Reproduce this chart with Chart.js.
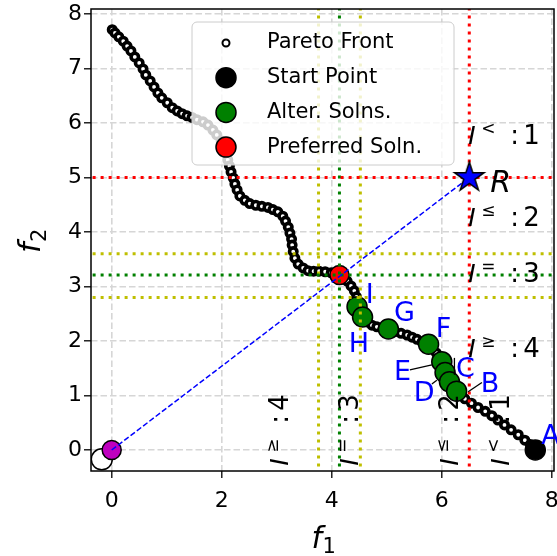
<!DOCTYPE html>
<html>
<head>
<meta charset="utf-8">
<script src="https://cdn.jsdelivr.net/npm/chart.js@4.4.6/dist/chart.umd.min.js"></script>
<style>
  html, body { margin: 0; padding: 0; background: #fff; }
  #chart { display: block; }
</style>
</head>
<body>
<canvas id="chart" width="557" height="556"></canvas>
<script>
// Pareto front samples
const paretoF1 = [0.01, 0.06, 0.13, 0.21, 0.28, 0.35, 0.42, 0.50, 0.57, 0.62, 0.70, 0.77, 0.84, 0.91, 1.01, 1.10, 1.19, 1.28, 1.37, 1.46,
  1.55, 1.66, 1.75, 1.84, 1.91, 1.99, 2.04, 2.09, 2.11, 2.14, 2.17, 2.21, 2.24, 2.28, 2.33, 2.42, 2.51, 2.62, 2.73,
  2.84, 2.93, 3.02, 3.11, 3.16, 3.21, 3.24, 3.27, 3.28, 3.30, 3.33, 3.39, 3.48, 3.57, 3.67, 3.77, 3.88, 3.99, 4.08,
  4.19, 4.28, 4.35, 4.41, 4.45, 4.48, 4.51, 4.57, 4.64, 4.73, 4.82, 4.93, 5.04, 5.15, 5.26, 5.37, 5.46, 5.55, 5.64, 5.73, 5.82, 5.90, 5.95, 6.00, 6.04, 6.08, 6.13, 6.20, 6.30,
  6.42, 6.54, 6.66, 6.79, 6.91, 7.02, 7.14, 7.26, 7.39, 7.51, 7.61, 7.70]
const paretoF2 = [7.71, 7.65, 7.58, 7.50, 7.41, 7.32, 7.21, 7.10, 6.99, 6.88, 6.77, 6.66, 6.55, 6.46, 6.37, 6.28, 6.22, 6.17, 6.13, 6.10,
  6.06, 6.02, 5.96, 5.87, 5.78, 5.67, 5.56, 5.43, 5.32, 5.21, 5.10, 4.99, 4.88, 4.77, 4.66, 4.58, 4.52, 4.49, 4.47,
  4.45, 4.41, 4.37, 4.29, 4.20, 4.09, 3.98, 3.87, 3.76, 3.64, 3.52, 3.41, 3.34, 3.29, 3.28, 3.28, 3.27, 3.25, 3.23,
  3.17, 3.10, 3.01, 2.92, 2.81, 2.70, 2.57, 2.44, 2.35, 2.29, 2.26, 2.22, 2.19, 2.17, 2.14, 2.11, 2.07, 2.03, 1.98, 1.94, 1.87, 1.78, 1.67, 1.56, 1.45, 1.34, 1.23, 1.12, 1.03,
  0.94, 0.86, 0.78, 0.71, 0.63, 0.55, 0.46, 0.37, 0.28, 0.18, 0.10, 0.02]

const startF1 = [7.70]
const startF2 = [0.00]
const altF1 = [4.46, 4.56, 5.03, 5.76, 6.00, 6.06, 6.14, 6.27]
const altF2 = [2.63, 2.44, 2.22, 1.94, 1.62, 1.42, 1.25, 1.08]
const preferredF1 = [4.14]
const preferredF2 = [3.21]
const refF1 = [6.5]
const refF2 = [5.0]
const originF1 = [0]
const originF2 = [0]
const idealF1 = [-0.18]
const idealF2 = [-0.17]
const boundF1 = [3.76, 4.52]
const boundF2 = [2.80, 3.60]

const tickF1 = [0, 2, 4, 6, 8]
const tickF2 = [0, 1, 2, 3, 4, 5, 6, 7, 8]
const legendLabels = ["Pareto Front", "Start Point", "Alter. Solns.", "Preferred Soln."]
const pointNames = ["A", "B", "C", "D", "E", "F", "G", "H", "I"]
const indexSymbols = ["<", "≤", "=", "≥"]
const indexValues = [1, 2, 3, 4]

const FONT = '"DejaVu Sans", sans-serif'
const pts = (xs, ys) => xs.map((v, i) => ({ x: v, y: ys[i] }))
const vline = (v) => [{ x: v, y: -5 }, { x: v, y: 15 }]
const hline = (v) => [{ x: -5, y: v }, { x: 15, y: v }]

function dotted(data, color) {
  return { type: "line", data, showLine: true, borderColor: color, borderWidth: 3,
    borderDash: [3, 5], borderCapStyle: "butt", pointRadius: 0, clip: 0, order: 5 }
}

function makeStar(R) {
  const c = document.createElement("canvas")
  const s = Math.ceil(2 * R + 6)
  c.width = s
  c.height = s
  const g = c.getContext("2d")
  g.translate(s / 2, s / 2)
  g.beginPath()
  for (let i = 0; i < 10; i++) {
    const r = i % 2 === 0 ? R : R * 0.382
    const a = -Math.PI / 2 + i * Math.PI / 5
    g.lineTo(r * Math.cos(a), r * Math.sin(a))
  }
  g.closePath()
  g.fillStyle = "#0000ff"
  g.fill()
  g.lineWidth = 1.5
  g.strokeStyle = "#000"
  g.stroke()
  return c
}

// label placement (data units)
const nameAt = { A: [7.81, 0.11], B: [6.71, 1.06], C: [6.26, 1.34], D: [5.49, 0.90], E: [5.13, 1.28],
  F: [5.89, 2.07], G: [5.13, 2.37], H: [4.31, 1.80], I: [4.62, 2.70] }
const leaders = [
  [[6.48, 1.07], [6.73, 1.24]],
  [[5.82, 1.21], [5.91, 1.28]],
  [[5.42, 1.47], [5.82, 1.56]],
  [[6.23, 1.69], [6.23, 1.38]]
]
const rowY = [5.61, 4.11, 3.08, 1.71]
const colX = [7.23, 6.30, 4.48, 3.21]

function indexLabel(ctx, sym, num) {
  ctx.font = "italic 25px " + FONT
  ctx.fillText("I", 0, 0)
  ctx.font = "17px " + FONT
  ctx.fillText(sym, 13, -10)
  ctx.font = "26px " + FONT
  ctx.fillText(":", 42, 0)
  ctx.fillText(String(num), 55, 0)
}

const overlay = {
  id: "overlay",
  afterDatasetsDraw(chart) {
    const { ctx, chartArea: a, scales: { x, y } } = chart
    const px = (v) => x.getPixelForValue(v)
    const py = (v) => y.getPixelForValue(v)
    ctx.save()

    // legend
    const lx = a.left + 101, ly = a.top + 13
    ctx.beginPath()
    ctx.roundRect(lx, ly, 262, 143, 5)
    ctx.fillStyle = "rgba(255,255,255,0.8)"
    ctx.fill()
    ctx.strokeStyle = "#cccccc"
    ctx.lineWidth = 1
    ctx.stroke()
    const marks = [
      { r: 3.5, fill: "#fff", lw: 2 },
      { r: 10, fill: "#000", lw: 1.5 },
      { r: 10, fill: "#008000", lw: 1.5 },
      { r: 10, fill: "#ff0000", lw: 1.5 }
    ]
    legendLabels.forEach((label, i) => {
      const cy = ly + 21 + i * 34.7
      ctx.beginPath()
      ctx.arc(lx + 34, cy, marks[i].r, 0, 2 * Math.PI)
      ctx.fillStyle = marks[i].fill
      ctx.fill()
      ctx.lineWidth = marks[i].lw
      ctx.strokeStyle = "#000"
      ctx.stroke()
      ctx.fillStyle = "#000"
      ctx.font = "21px " + FONT
      ctx.textBaseline = "middle"
      ctx.fillText(label, lx + 75, cy)
    })

    // frame
    ctx.strokeStyle = "#000"
    ctx.lineWidth = 1.5
    ctx.strokeRect(a.left, a.top, a.right - a.left, a.bottom - a.top)

    // leaders + point names
    ctx.lineWidth = 1.3
    leaders.forEach(([p, q]) => {
      ctx.beginPath()
      ctx.moveTo(px(p[0]), py(p[1]))
      ctx.lineTo(px(q[0]), py(q[1]))
      ctx.stroke()
    })
    ctx.textBaseline = "alphabetic"
    ctx.fillStyle = "#0000ff"
    ctx.font = "27px " + FONT
    pointNames.forEach((n) => ctx.fillText(n, px(nameAt[n][0]), py(nameAt[n][1])))

    // reference point label
    ctx.fillStyle = "#000"
    ctx.font = "italic 30px " + FONT
    ctx.fillText("R", px(6.88), py(4.73))

    // index labels along the right and the bottom
    indexSymbols.forEach((s, i) => {
      ctx.save()
      ctx.translate(px(6.48), py(rowY[i]))
      indexLabel(ctx, s, indexValues[i])
      ctx.restore()
      ctx.save()
      ctx.translate(px(colX[i]), py(-0.29))
      ctx.rotate(-Math.PI / 2)
      indexLabel(ctx, s, indexValues[i])
      ctx.restore()
    })
    ctx.restore()
  },
  afterDraw(chart) {
    const { ctx, chartArea: a } = chart
    ctx.save()
    ctx.fillStyle = "#000"
    ctx.textBaseline = "alphabetic"
    const cx = (a.left + a.right) / 2
    ctx.font = "italic 30px " + FONT
    ctx.fillText("f", cx - 11, 548)
    ctx.font = "21px " + FONT
    ctx.fillText("1", cx + 0, 553)
    const cy = (a.top + a.bottom) / 2
    ctx.translate(40, cy + 13)
    ctx.rotate(-Math.PI / 2)
    ctx.font = "italic 30px " + FONT
    ctx.fillText("f", 0, 0)
    ctx.font = "21px " + FONT
    ctx.fillText("2", 11, 6)
    ctx.restore()
  }
}

const axisCommon = (ticks) => ({
  type: "linear",
  afterBuildTicks: (s) => { s.ticks = ticks.map((v) => ({ value: v })) },
  ticks: { color: "#000", font: { family: "DejaVu Sans", size: 22 } },
  grid: { color: "#d6d6d6", lineWidth: 1.6, tickColor: "#000", tickWidth: 1.3, tickLength: 7, tickBorderDash: [] },
  border: { display: false, dash: [6.5, 3] }
})

new Chart(document.getElementById("chart"), {
  type: "scatter",
  data: {
    datasets: [
      { data: pts(paretoF1, paretoF2), backgroundColor: "#fff", borderColor: "#000", borderWidth: 3.6, pointRadius: 3.7, clip: 0, order: 10 },
      { data: pts(idealF1, idealF2), backgroundColor: "#fff", borderColor: "#000", borderWidth: 1.5, pointRadius: 10.5, clip: 0, order: 9 },
      { data: pts(originF1, originF2), backgroundColor: "#bf00bf", borderColor: "#000", borderWidth: 1.5, pointRadius: 9.5, clip: 0, order: 8 },
      { data: pts(altF1, altF2), backgroundColor: "#008000", borderColor: "#000", borderWidth: 1.5, pointRadius: 10, clip: 0, order: 7 },
      { data: pts(startF1, startF2), backgroundColor: "#000", borderColor: "#000", borderWidth: 1.5, pointRadius: 10, clip: 0, order: 7 },
      { data: pts(preferredF1, preferredF2), backgroundColor: "#ff0000", borderColor: "#000", borderWidth: 1.5, pointRadius: 9.5, clip: 0, order: 6 },
      dotted(vline(refF1[0]), "#ff0000"),
      dotted(hline(refF2[0]), "#ff0000"),
      dotted(vline(preferredF1[0]), "#008000"),
      dotted(hline(preferredF2[0]), "#008000"),
      ...boundF1.map((v) => dotted(vline(v), "#bfbf00")),
      ...boundF2.map((v) => dotted(hline(v), "#bfbf00")),
      { type: "line", data: [pts(originF1, originF2)[0], pts(refF1, refF2)[0]], showLine: true, borderColor: "#0000ff",
        borderWidth: 1.5, borderDash: [5.5, 2.4], pointRadius: 0, clip: 0, order: 4 },
      { data: pts(refF1, refF2), pointStyle: makeStar(15.5), pointRadius: 16, clip: 0, order: 1 }
    ]
  },
  options: {
    responsive: false,
    animation: false,
    devicePixelRatio: 1,
    layout: { autoPadding: false, padding: { top: 9, right: 3, left: 0, bottom: 0 } },
    plugins: { legend: { display: false }, tooltip: { enabled: false } },
    scales: {
      x: { ...axisCommon(tickF1), min: -0.376, max: 8.04,
        ticks: { ...axisCommon(tickF1).ticks, padding: 10 },
        afterFit: (s) => { s.height = 85; s.paddingLeft = 0; s.paddingRight = 0 } },
      y: { ...axisCommon(tickF2), min: -0.385, max: 8.09,
        ticks: { ...axisCommon(tickF2).ticks, padding: 2 },
        afterFit: (s) => { s.width = 91; s.paddingTop = 0; s.paddingBottom = 0 } }
    }
  },
  plugins: [overlay]
})
</script>
</body>
</html>
